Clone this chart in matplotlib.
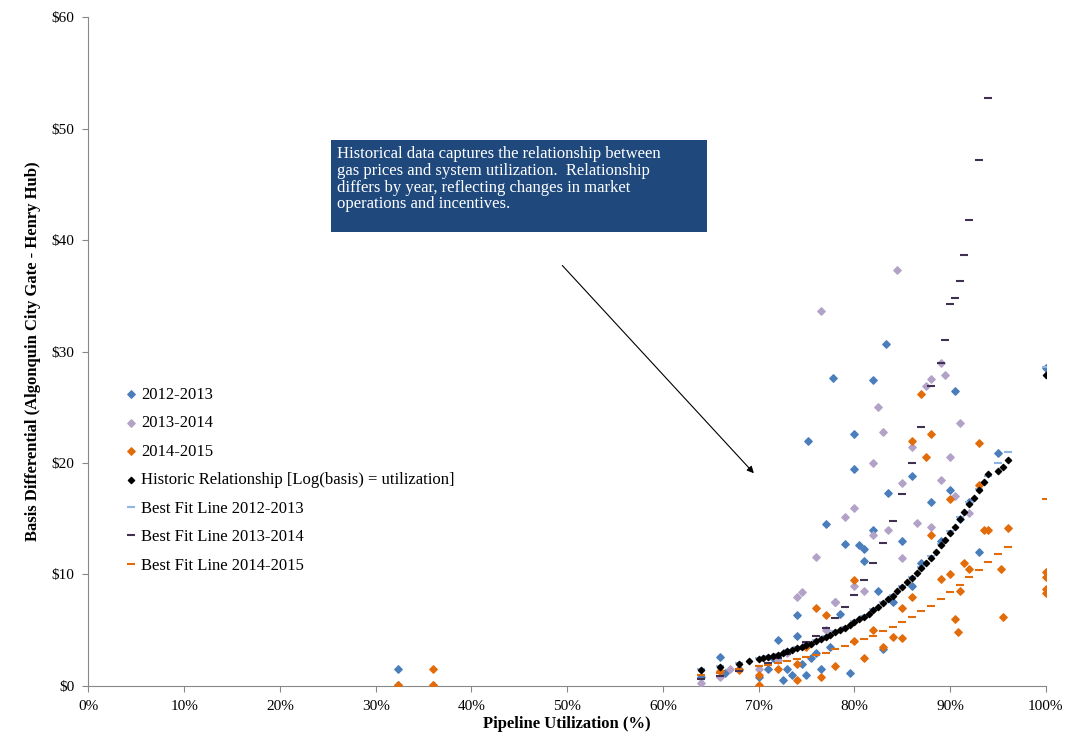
import matplotlib
matplotlib.use("Agg")
import matplotlib.pyplot as plt
from matplotlib.ticker import FuncFormatter

plt.rcParams['font.family'] = ['Liberation Serif', 'DejaVu Serif']

pts_1213 = [(32.3,1.5),(32.3,0.1),(64,0.8),(66,2.6),(66.5,1.2),(68,1.5),(70,0.8),(71,1.5),(71.5,2.5),(72,4.1),
            (72.5,0.5),(73,1.5),(73.5,1.0),(74,4.5),(74,6.4),(74.5,2.0),(75,1.0),(75.2,22),(75.5,2.5),(76,3.0),
            (76.5,1.5),(77,14.5),(77.5,3.5),(77.8,27.6),(78,7.5),(78.5,6.5),(79,12.7),(79.5,1.2),(80,22.6),(80,19.5),
            (80.5,12.6),(81,11.2),(81,12.3),(82,27.4),(82,14),(82.5,8.5),(83,3.3),(83.3,30.7),(83.5,17.3),(84,7.5),
            (85,13),(86,18.8),(86,9),(87,11),(88,16.5),(89,13),(90,17.6),(90.5,26.5),(91,15),(92,16.5),(93,12),
            (95,20.9),(100,28.5)]
pts_1314 = [(36,0.1),(64,0.3),(66,0.8),(67,1.5),(70,1.5),(72,2.3),(73,3),(74,8),(74.5,8.4),(76,11.6),(76.5,33.6),
            (77,5),(78,7.5),(79,15.2),(80,16),(80,9),(81,8.5),(82,20),(82,13.5),(82.5,25),(83,22.8),(83.5,14),
            (84.5,37.3),(85,18.2),(85,11.5),(86,21.4),(86.5,14.6),(87.5,26.9),(88,14.3),(88,27.5),(89,18.5),(89,29),
            (89.5,27.9),(90,20.5),(90.5,17),(91,23.6),(92,15.5)]
pts_1415 = [(32.3,0.1),(36,1.5),(36,0.1),(66,1.3),(68,1.4),(70,0.1),(70,1.0),(72,1.5),(74,0.5),(74,2),(75,3.5),
            (76,7),(76.5,0.8),(77,6.4),(78,1.8),(80,9.5),(80,4),(81,2.5),(82,5),(83,3.5),(84,4.4),(85,4.3),(85,7),
            (86,22),(86,8),(87,26.2),(87.5,20.5),(88,22.6),(88,13.5),(89,9.6),(90,16.8),(90,10),(90.5,6),(90.8,4.8),
            (91,8.5),(91.5,11),(92,10.5),(93,21.8),(93,18),(93.5,14),(94,14),(95.3,10.5),(95.5,6.2),(96,14.2),
            (100,10.2),(100,9.8),(100,8.3),(100,8.7)]

hist_x = [64,66,68,69,70,70.5,71,71.5,72,72.5,73,73.5,74,74.5,75,75.5,76,76.5,77,77.5,78,78.5,79,79.5,80,80.5,
          81,81.5,82,82.5,83,83.5,84,84.5,85,85.5,86,86.5,87,87.5,88,88.5,89,89.5,90,90.5,91,91.5,92,92.5,93,
          93.5,94,95,95.5,96,100]
hist_y = [1.4,1.7,2.0,2.2,2.4,2.5,2.6,2.7,2.8,3.0,3.1,3.2,3.4,3.5,3.7,3.8,4.0,4.2,4.4,4.6,4.8,5.0,5.2,5.5,5.7,
          6.0,6.2,6.5,6.8,7.1,7.4,7.8,8.1,8.5,8.9,9.3,9.7,10.1,10.6,11.0,11.5,12.0,12.6,13.1,13.7,14.3,15.0,
          15.6,16.3,16.9,17.6,18.3,19.0,19.3,19.6,20.3,27.9]
fit1213_x = [64,66,68,70,71,72,73,74,75,76,77,78,79,80,81,82,83,84,85,86,87,88,89,90,91,92,93,94,95,96,100]
fit1213_y = [1.5,1.8,2.1,2.5,2.7,2.9,3.2,3.5,3.8,4.1,4.5,4.9,5.3,5.8,6.3,6.9,7.5,8.2,9.0,9.8,10.7,11.7,12.7,
             13.9,15.2,16.5,17.7,18.8,20.0,21.0,28.6]
fit1314_x = [64,66,68,70,71,72,73,74,75,76,77,78,79,80,81,82,83,84,85,86,87,88,89,89.5,90,90.5,91,91.5,92,93,94]
fit1314_y = [0.6,0.9,1.3,1.8,2.1,2.5,2.9,3.3,3.9,4.5,5.2,6.1,7.1,8.2,9.5,11,12.8,14.8,17.2,20,23.2,26.9,29,
             31,34.3,34.8,36.3,38.7,41.8,47.2,52.7]
fit1415_x = [64,66,68,70,71,72,73,74,75,76,77,78,79,80,81,82,83,84,85,86,87,88,89,90,91,92,93,94,95,96,100]
fit1415_y = [1.0,1.2,1.5,1.8,1.9,2.1,2.2,2.4,2.6,2.8,3.0,3.3,3.6,3.9,4.2,4.5,4.9,5.3,5.7,6.2,6.7,7.2,7.8,8.4,
             9.1,9.8,10.4,11.1,11.8,12.5,16.8]

fig, ax = plt.subplots(figsize=(10.65, 7.4), dpi=100)
fig.subplots_adjust(left=0.083, right=0.982, top=0.977, bottom=0.073)

ax.scatter([p[0] for p in pts_1213], [p[1] for p in pts_1213], marker='D', s=14, color='#4a7ebb', label='2012-2013', zorder=3)
ax.scatter([p[0] for p in pts_1314], [p[1] for p in pts_1314], marker='D', s=14, color='#b3a2c7', label='2013-2014', zorder=3)
ax.scatter([p[0] for p in pts_1415], [p[1] for p in pts_1415], marker='D', s=14, color='#e36c0a', label='2014-2015', zorder=3)
ax.scatter(hist_x, hist_y, marker='D', s=10, color='black', label='Historic Relationship [Log(basis) = utilization]', zorder=5)
ax.plot(fit1213_x, fit1213_y, ls='none', marker='_', ms=6, mew=1.5, color='#8eb4e3', label='Best Fit Line 2012-2013', zorder=4)
ax.plot(fit1314_x, fit1314_y, ls='none', marker='_', ms=6, mew=1.5, color='#403152', label='Best Fit Line 2013-2014', zorder=4)
ax.plot(fit1415_x, fit1415_y, ls='none', marker='_', ms=6, mew=1.5, color='#e36c0a', label='Best Fit Line 2014-2015', zorder=4)

ax.set_xlim(0, 100)
ax.set_ylim(0, 60)
ax.set_xticks(range(0, 101, 10))
ax.set_yticks(range(0, 61, 10))
ax.xaxis.set_major_formatter(FuncFormatter(lambda v, p: f"{int(v)}%"))
ax.yaxis.set_major_formatter(FuncFormatter(lambda v, p: f"${int(v)}"))
ax.tick_params(labelsize=11, direction='out', length=4, color='#888888', pad=6)
for s in ['top', 'right']:
    ax.spines[s].set_visible(False)
for s in ['left', 'bottom']:
    ax.spines[s].set_color('#888888')
ax.set_xlabel('Pipeline Utilization (%)', fontsize=12, fontweight='bold', labelpad=2)
ax.set_ylabel('Basis Differential (Algonquin City Gate - Henry Hub)', fontsize=12, fontweight='bold', labelpad=8)

ax.legend(loc='upper left', bbox_to_anchor=(0.02, 0.47), frameon=False, fontsize=12,
          handletextpad=0.1, labelspacing=0.75, markerscale=1.0, handlelength=1.0)

ax.annotate('', xy=(69.7, 18.9), xytext=(49.3, 37.9),
            arrowprops=dict(arrowstyle='-|>', color='black', lw=0.8))
ax.add_patch(plt.Rectangle((25.3, 40.7), 39.3, 8.3, fc='#1f497d', ec='none', zorder=0.5))
ax.text(26.0, 48.4, 'Historical data captures the relationship between\ngas prices and system utilization.  Relationship\n'
        'differs by year, reflecting changes in market\noperations and incentives.',
        fontsize=12, color='white', va='top', ha='left', linespacing=1.05)

fig.savefig('out.png')
